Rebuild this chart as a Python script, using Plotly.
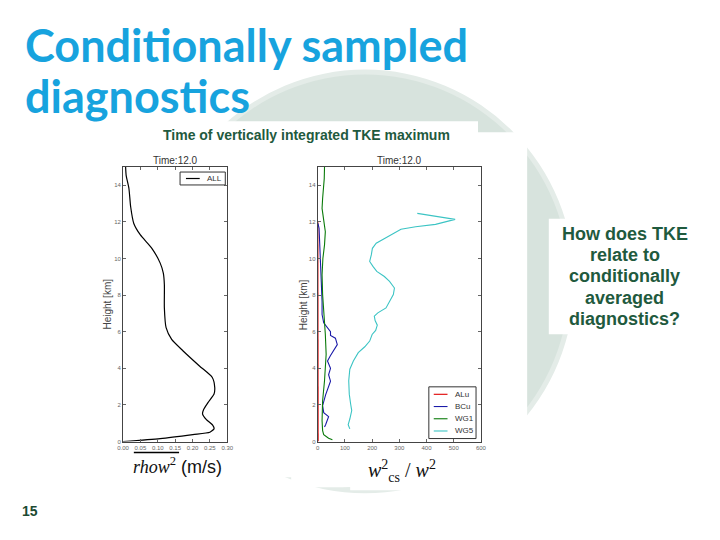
import plotly.graph_objects as go

# ---------------- data ----------------
all_height = [0.0, 0.16, 0.38, 0.51, 0.70, 0.90, 1.20, 1.50, 1.75, 2.14, 2.60, 2.95, 3.50, 4.13,
              4.95, 5.58, 6.22, 7.30, 8.57, 9.20, 9.75, 10.56, 11.29, 11.92, 12.83, 13.83, 14.55, 15.0]
all_tke = [0.0, 0.107, 0.201, 0.250, 0.262, 0.258, 0.240, 0.229, 0.232, 0.245, 0.262, 0.264, 0.257, 0.220,
           0.173, 0.140, 0.124, 0.119, 0.119, 0.116, 0.107, 0.083, 0.050, 0.031, 0.022, 0.017, 0.009, 0.0075]

alu_height = [0.0, 1.0, 2.0, 3.0, 4.0, 5.0, 6.0, 7.0, 8.0, 9.0, 10.0, 11.0, 12.0]
alu_ratio = [1.5, 1.2, 1.0, 1.0, 1.2, 1.5, 1.2, 1.0, 0.8, 0.8, 0.6, 0.5, 0.4]

bcu_height = [0.80, 0.92, 1.36, 1.58, 1.96, 2.55, 3.30, 3.65, 4.00, 4.40, 4.70, 5.10, 5.30, 5.65, 5.80,
              6.00, 6.20, 6.49, 6.94, 7.66, 8.75, 10.02, 10.93, 11.65, 11.92]
bcu_ratio = [25, 29, 40, 22, 18, 29, 47, 40, 47, 36, 47, 65, 72, 65, 47,
             47, 36, 22, 16, 16, 13, 10, 7, 5, 1]

wg1_height = [0.10, 0.18, 0.38, 0.60, 1.14, 2.23, 3.32, 4.77, 5.85, 6.94, 8.03, 9.11, 10.0, 10.75,
              11.47, 12.10, 12.74, 13.28, 13.83, 14.37, 15.0]
wg1_ratio = [54, 40, 22, 18, 16, 18, 25, 31, 28, 22, 18, 16, 19, 25,
             28, 22, 16, 18, 22, 24, 25]

wg5_height = [0.69, 0.92, 1.23, 1.69, 2.05, 2.59, 3.32, 3.95, 4.40, 4.86, 5.18, 5.49, 5.85, 6.07, 6.36,
              6.61, 6.85, 7.03, 7.30, 7.66, 8.03, 8.39, 8.75, 9.02, 9.30, 9.57, 9.84, 10.2, 10.56,
              10.84, 11.1, 11.33, 11.6, 11.74, 11.87, 12.14, 12.47]
wg5_ratio = [118, 112, 118, 125, 121, 116, 114, 118, 131, 149, 173, 191, 200, 213, 219,
             211, 208, 221, 251, 264, 278, 282, 264, 245, 217, 203, 191, 197, 201,
             215, 245, 276, 306, 360, 433, 505, 366]

y_ticks = [0, 2, 4, 6, 8, 10, 12, 14]
left_x_ticks = [0.00, 0.05, 0.10, 0.15, 0.20, 0.25, 0.30]
right_x_ticks = [0, 100, 200, 300, 400, 500, 600]

series_names = ["ALu", "BCu", "WG1", "WG5"]
series_colors = ["#e00000", "#1a1aa8", "#0a7a0a", "#3cc4c4"]

title_lines = ["Conditionally sampled", "diagnostics"]
subheader = "Time of vertically integrated TKE maximum"
question_lines = ["How does TKE", "relate to", "conditionally", "averaged", "diagnostics?"]
page_number = "15"

# ---------------- helpers ----------------
W, H = 720, 540
def px(x):
    return x / W
def py(y):
    return (H - y) / H

TITLE_BLUE = "#17a3de"
DARK_GREEN = "#1f5a3e"
CIRCLE = "#d7e3dd"

fig = go.Figure()

fig.add_trace(go.Scatter(x=all_tke, y=all_height, mode="lines", name="ALL",
                         line=dict(color="black", width=1.2, shape="spline", smoothing=0.6),
                         xaxis="x", yaxis="y"))

series_x = [alu_ratio, bcu_ratio, wg1_ratio, wg5_ratio]
series_y = [alu_height, bcu_height, wg1_height, wg5_height]
for name, xs, ys, col in zip(series_names, series_x, series_y, series_colors):
    fig.add_trace(go.Scatter(x=xs, y=ys, mode="lines", name=name,
                             line=dict(color=col, width=1.1),
                             xaxis="x2", yaxis="y2"))

tickfont = dict(family="Liberation Sans", size=6, color="#666666")
axis_common = dict(showgrid=False, zeroline=False, showline=True, linecolor="#444444", linewidth=1,
                   mirror="allticks", ticks="inside", ticklen=3, tickcolor="#666666", tickfont=tickfont)

ydom = [py(444), py(168)]
fig.update_layout(
    width=W, height=H,
    margin=dict(l=0, r=0, t=0, b=0),
    paper_bgcolor="white", plot_bgcolor="rgba(0,0,0,0)",
    showlegend=False,
    xaxis=dict(domain=[px(119), px(225)], range=[0, 0.30], tickvals=left_x_ticks,
               tickformat=".2f", anchor="y", **axis_common),
    yaxis=dict(domain=ydom, range=[0, 15], tickvals=y_ticks, anchor="x", **axis_common),
    xaxis2=dict(domain=[px(317), px(483)], range=[0, 600], tickvals=right_x_ticks,
                anchor="y2", **axis_common),
    yaxis2=dict(domain=ydom, range=[0, 15], tickvals=y_ticks, anchor="x2", **axis_common),
)

# ---------------- background decorations ----------------
shapes = []
shapes.append(dict(type="circle", xref="paper", yref="paper", layer="below",
                   x0=px(365 - 213), x1=px(365 + 213), y0=py(496), y1=py(70),
                   fillcolor="#e4ece8", line=dict(width=0)))
shapes.append(dict(type="circle", xref="paper", yref="paper", layer="below",
                   x0=px(365 - 208), x1=px(365 + 208), y0=py(491), y1=py(75),
                   fillcolor=CIRCLE, line=dict(width=0)))
for (x0, y0, x1, y1) in [(157, 122, 480, 146), (290, 133, 530, 490), (85, 143, 300, 480),
                         (350, 455, 470, 493), (552, 220, 690, 336)]:
    shapes.append(dict(type="rect", xref="paper", yref="paper", layer="below",
                       x0=px(x0), x1=px(x1), y0=py(y1), y1=py(y0),
                       fillcolor="white", line=dict(width=0)))
# overline of the rhow^2 label
shapes.append(dict(type="line", xref="paper", yref="paper",
                   x0=px(130), x1=px(176), y0=py(455), y1=py(455),
                   line=dict(color="black", width=1.5)))

# legend boxes (drawn by hand to match the compact matplotlib legends)
legend_font = dict(family="Liberation Sans", size=8, color="#333333")
shapes.append(dict(type="rect", xref="paper", yref="paper",
                   x0=px(177), x1=px(223), y0=py(186), y1=py(173),
                   fillcolor="white", line=dict(color="#333333", width=1)))
shapes.append(dict(type="line", xref="paper", yref="paper",
                   x0=px(183), x1=px(197), y0=py(179.5), y1=py(179.5),
                   line=dict(color="black", width=1.2)))
shapes.append(dict(type="rect", xref="paper", yref="paper",
                   x0=px(430), x1=px(478), y0=py(441), y1=py(389),
                   fillcolor="white", line=dict(color="#333333", width=1)))
ann = []
for i, (name, col) in enumerate(zip(series_names, series_colors)):
    ly = 396.5 + i * 12.3
    shapes.append(dict(type="line", xref="paper", yref="paper",
                       x0=px(435), x1=px(449), y0=py(ly), y1=py(ly),
                       line=dict(color=col, width=1.1)))
    ann.append(dict(text=name, x=px(455), y=py(ly), xref="paper", yref="paper",
                    xanchor="left", yanchor="middle", showarrow=False, font=legend_font))
ann.append(dict(text="ALL", x=px(202), y=py(179.5), xref="paper", yref="paper",
                xanchor="left", yanchor="middle", showarrow=False, font=legend_font))
fig.update_layout(shapes=shapes)

ann.append(dict(text=title_lines[0], x=px(17), y=py(45), xref="paper", yref="paper",
                xanchor="left", yanchor="middle", showarrow=False,
                font=dict(family="Lato", size=45, color=TITLE_BLUE, weight="bold")))
ann.append(dict(text=title_lines[1], x=px(17), y=py(97), xref="paper", yref="paper",
                xanchor="left", yanchor="middle", showarrow=False,
                font=dict(family="Lato", size=45, color=TITLE_BLUE, weight="bold")))
ann.append(dict(text="<b>" + subheader + "</b>", x=px(306), y=py(136), xref="paper", yref="paper",
                xanchor="center", yanchor="middle", showarrow=False,
                font=dict(family="Liberation Sans", size=14, color=DARK_GREEN)))
for i, line in enumerate(question_lines):
    ann.append(dict(text="<b>" + line + "</b>", x=px(629), y=py(235 + i * 21.5),
                    xref="paper", yref="paper",
                    xanchor="center", yanchor="middle", showarrow=False,
                    font=dict(family="Liberation Sans", size=18, color=DARK_GREEN)))
ann.append(dict(text="<b>" + page_number + "</b>", x=px(24), y=py(514), xref="paper", yref="paper",
                xanchor="center", yanchor="middle", showarrow=False,
                font=dict(family="Liberation Sans", size=14, color="#1c4a32")))
for cx in (172, 400):
    ann.append(dict(text="Time:12.0", x=px(cx), y=py(161), xref="paper", yref="paper",
                    xanchor="center", yanchor="middle", showarrow=False,
                    font=dict(family="Liberation Sans", size=10, color="#333333")))
for lx in (103, 302):
    ann.append(dict(text="Height [km]", x=px(lx), y=py(306), xref="paper", yref="paper",
                    xanchor="center", yanchor="middle", showarrow=False, textangle=-90,
                    font=dict(family="Liberation Sans", size=10, color="#444444")))
ann.append(dict(text="<i>rhow</i><sup>2</sup><span style='font-family:Liberation Sans'> (m/s)</span>",
                x=px(174), y=py(468), xref="paper", yref="paper",
                xanchor="center", yanchor="middle", showarrow=False,
                font=dict(family="Liberation Serif", size=18, color="#111111")))
ann.append(dict(text="<i>w</i><sup>2</sup><sub>cs</sub> / <i>w</i><sup>2</sup>",
                x=px(403), y=py(474), xref="paper", yref="paper",
                xanchor="center", yanchor="middle", showarrow=False,
                font=dict(family="Liberation Serif", size=20, color="#111111")))
fig.update_layout(annotations=ann)

fig.write_html("out.html", config={"displayModeBar": False},
               post_script="document.body.style.margin='0px';")
